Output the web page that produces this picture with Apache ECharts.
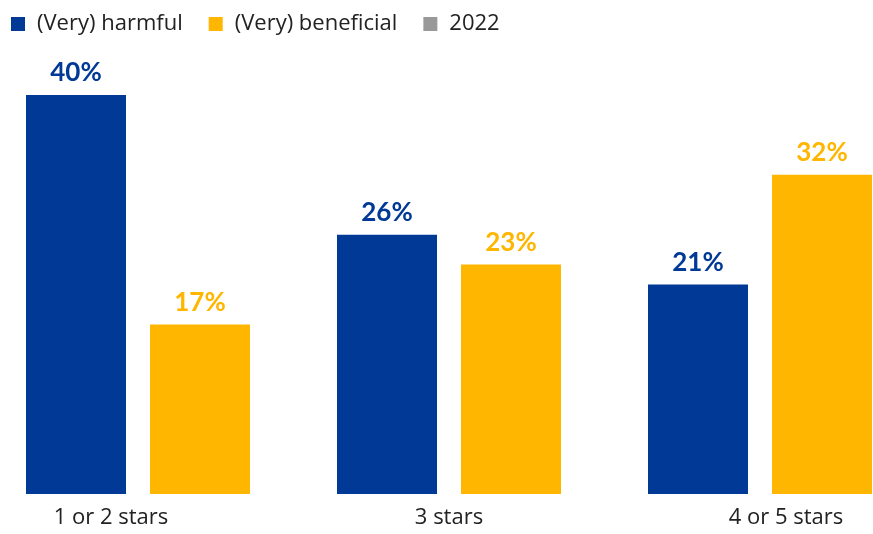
<!DOCTYPE html>
<html>
<head>
<meta charset="utf-8">
<script src="https://cdn.jsdelivr.net/npm/echarts@6/dist/echarts.min.js"></script>
<style>
  html, body { margin: 0; padding: 0; background: #fff; }
  #chart { width: 873px; height: 534px; }
</style>
</head>
<body>
<div id="chart"></div>
<script>
// Star-rating categories and share of respondents per opinion
const categories = ['1 or 2 stars', '3 stars', '4 or 5 stars'];
const harmful = [40, 26, 21];
const beneficial = [17, 23, 32];
const year2022 = [];

const FONT = '"Open Sans"';
const BOLD_FONT = 'Lato';
const BLUE = '#003A96';
const GOLD = '#FFB600';
const GREY = '#999999';

// per-label horizontal nudges for the category names
const labelStyle = ['left', 'mid', 'right'];

const chart = echarts.init(document.getElementById('chart'), null, { renderer: 'canvas' });

function valueLabel(color) {
  return {
    show: true,
    position: 'top',
    distance: 9,
    formatter: '{c}%',
    color: color,
    fontFamily: BOLD_FONT,
    fontWeight: 'bold',
    fontSize: 26
  };
}

chart.setOption({
  animation: false,
  textStyle: { fontFamily: FONT },
  legend: {
    left: 6,
    top: 8,
    icon: 'rect',
    itemWidth: 14,
    itemHeight: 14,
    itemGap: 26,
    textStyle: {
      fontFamily: FONT,
      fontSize: 22,
      color: '#222',
      padding: [0, 0, 0, 7]
    },
    data: ['(Very) harmful', '(Very) beneficial', '2022']
  },
  grid: {
    left: -17.5,
    width: 933,
    top: 95,
    bottom: 40,
    containLabel: false,
    outerBoundsMode: 'none'
  },
  xAxis: {
    type: 'category',
    data: categories,
    axisLine: { show: false },
    axisTick: { show: false },
    axisLabel: {
      margin: 13,
      formatter: function (v, i) { return '{' + labelStyle[i] + '|' + v + '}'; },
      rich: {
        left: { fontFamily: FONT, fontSize: 22, color: '#222', padding: [0, 54, 0, 0] },
        mid: { fontFamily: FONT, fontSize: 22, color: '#222' },
        right: { fontFamily: FONT, fontSize: 22, color: '#222', padding: [0, 0, 0, 52] }
      }
    }
  },
  yAxis: {
    type: 'value',
    min: 0,
    max: 40,
    show: false,
    splitLine: { show: false }
  },
  series: [
    {
      name: '(Very) harmful',
      type: 'bar',
      data: harmful,
      barWidth: 100,
      barGap: '24%',
      itemStyle: { color: BLUE },
      label: valueLabel(BLUE)
    },
    {
      name: '(Very) beneficial',
      type: 'bar',
      data: beneficial,
      barWidth: 100,
      barGap: '24%',
      itemStyle: { color: GOLD },
      label: valueLabel(GOLD)
    },
    {
      name: '2022',
      type: 'line',
      data: year2022,
      itemStyle: { color: GREY },
      lineStyle: { color: GREY }
    }
  ]
});
</script>
</body>
</html>
